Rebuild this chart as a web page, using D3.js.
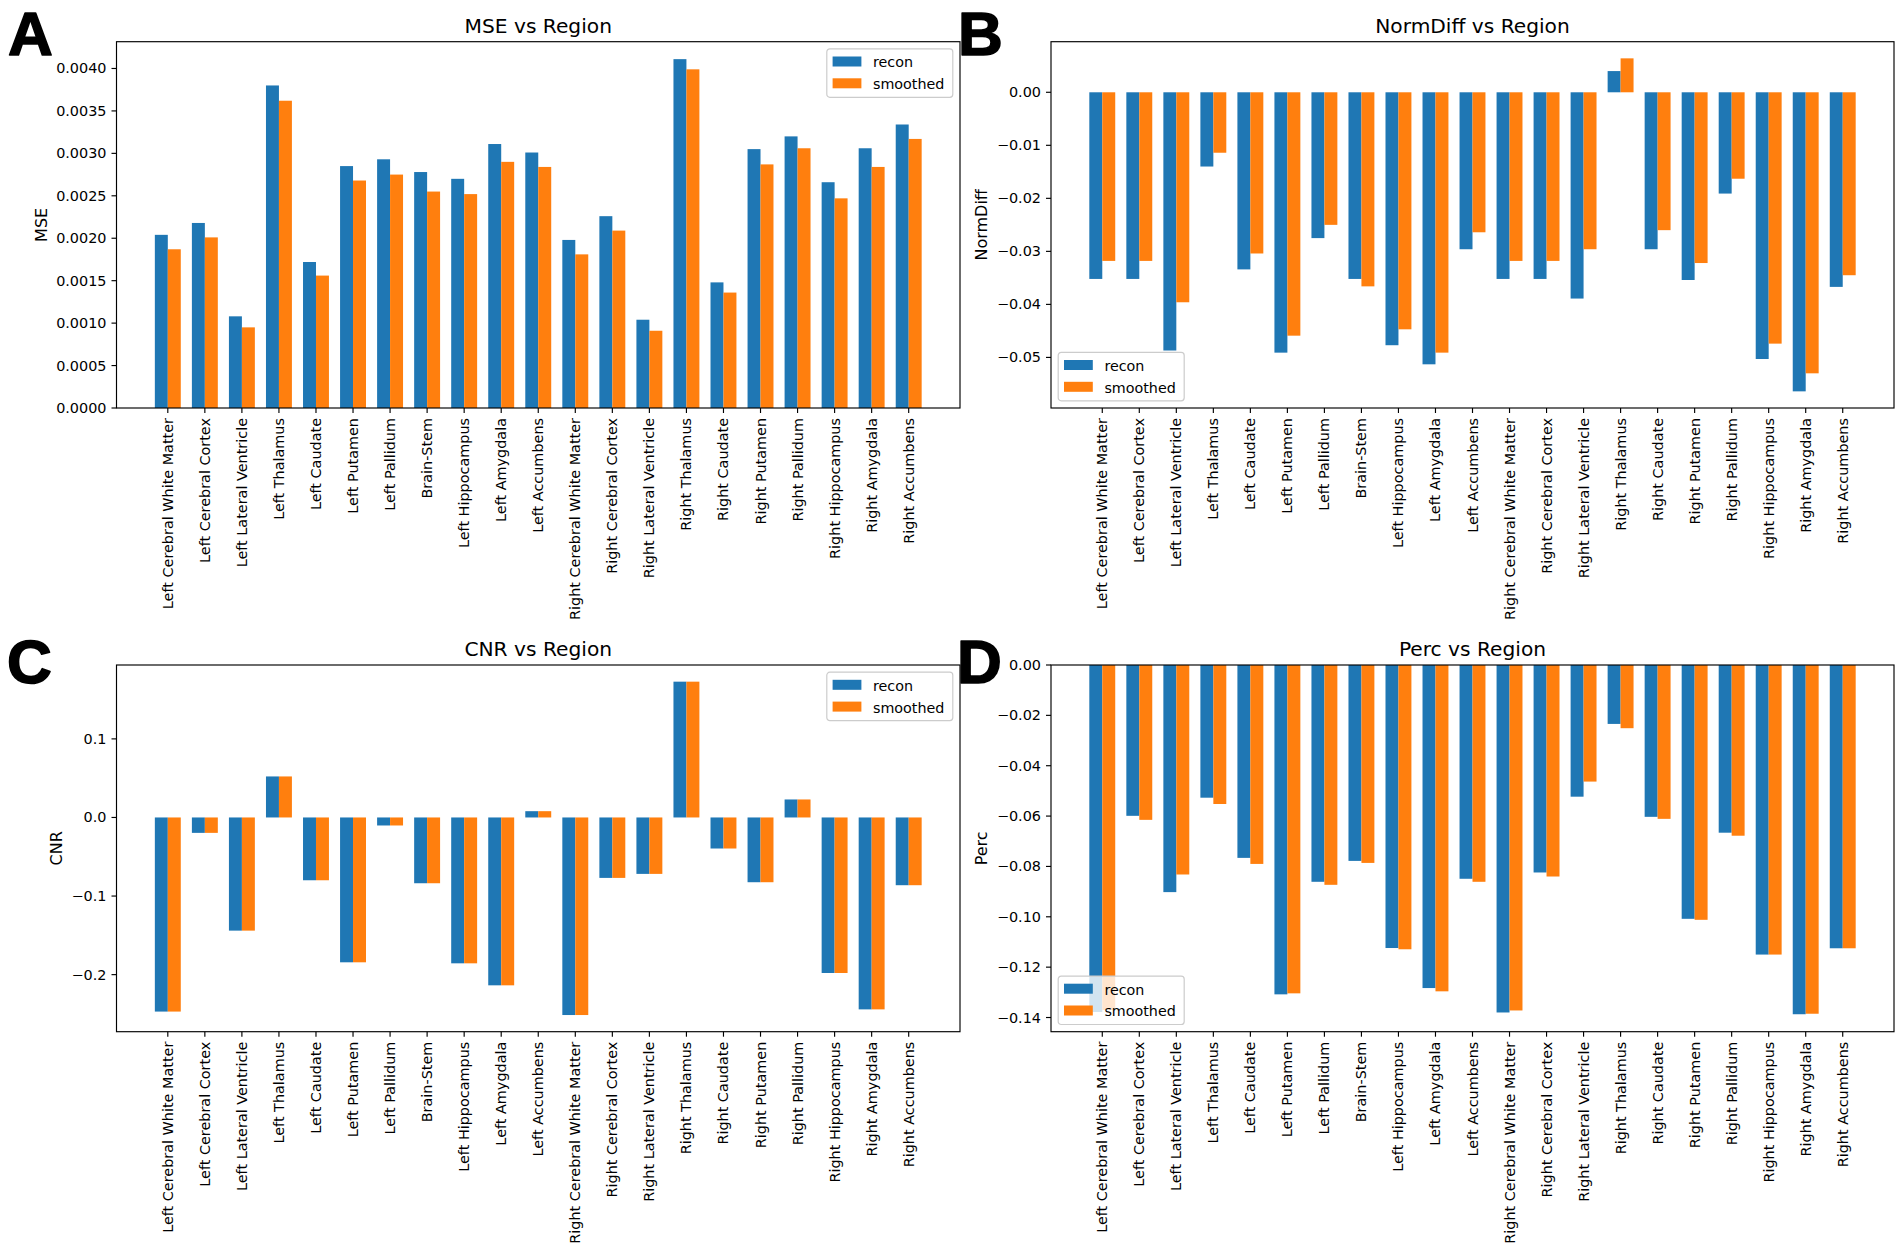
<!DOCTYPE html>
<html>
<head>
<meta charset="utf-8">
<script src="https://cdn.jsdelivr.net/npm/d3@7"></script>
<style>
  html, body { margin: 0; padding: 0; background: #ffffff; }
  svg { display: block; font-family: "DejaVu Sans", sans-serif; }
</style>
</head>
<body>
<svg id="chart" width="1902" height="1257"></svg>
<script>
// ---------- data ----------
const regions = [
  "Left Cerebral White Matter", "Left Cerebral Cortex", "Left Lateral Ventricle",
  "Left Thalamus", "Left Caudate", "Left Putamen", "Left Pallidum", "Brain-Stem",
  "Left Hippocampus", "Left Amygdala", "Left Accumbens", "Right Cerebral White Matter",
  "Right Cerebral Cortex", "Right Lateral Ventricle", "Right Thalamus", "Right Caudate",
  "Right Putamen", "Right Pallidum", "Right Hippocampus", "Right Amygdala", "Right Accumbens"
];
const seriesNames = ["recon", "smoothed"];

const mseRecon    = [0.00204, 0.00218, 0.00108, 0.00380, 0.00172, 0.00285, 0.00293, 0.00278, 0.00270, 0.00311, 0.00301, 0.00198, 0.00226, 0.00104, 0.00411, 0.00148, 0.00305, 0.00320, 0.00266, 0.00306, 0.00334];
const mseSmoothed = [0.00187, 0.00201, 0.00095, 0.00362, 0.00156, 0.00268, 0.00275, 0.00255, 0.00252, 0.00290, 0.00284, 0.00181, 0.00209, 0.00091, 0.00399, 0.00136, 0.00287, 0.00306, 0.00247, 0.00284, 0.00317];

const normRecon    = [-0.0352, -0.0352, -0.0487, -0.0140, -0.0334, -0.0491, -0.0275, -0.0352, -0.0477, -0.0513, -0.0296, -0.0352, -0.0352, -0.0389, 0.0040, -0.0296, -0.0354, -0.0191, -0.0503, -0.0564, -0.0367];
const normSmoothed = [-0.0318, -0.0318, -0.0396, -0.0114, -0.0304, -0.0459, -0.0250, -0.0366, -0.0447, -0.0491, -0.0264, -0.0318, -0.0318, -0.0296, 0.0064, -0.0260, -0.0322, -0.0163, -0.0474, -0.0530, -0.0345];

const cnrRecon    = [-0.2470, -0.0196, -0.1440, 0.0522, -0.0799, -0.1843, -0.0102, -0.0837, -0.1856, -0.2136, 0.0080, -0.2514, -0.0769, -0.0718, 0.1728, -0.0395, -0.0824, 0.0229, -0.1979, -0.2442, -0.0862];
const cnrSmoothed = [-0.2470, -0.0196, -0.1440, 0.0522, -0.0799, -0.1843, -0.0102, -0.0837, -0.1856, -0.2136, 0.0080, -0.2514, -0.0769, -0.0718, 0.1728, -0.0395, -0.0824, 0.0229, -0.1979, -0.2442, -0.0862];

const percRecon    = [-0.1378, -0.0599, -0.0902, -0.0527, -0.0766, -0.1308, -0.0861, -0.0778, -0.1124, -0.1283, -0.0849, -0.1380, -0.0824, -0.0523, -0.0234, -0.0603, -0.1008, -0.0666, -0.1150, -0.1387, -0.1125];
const percSmoothed = [-0.1370, -0.0615, -0.0832, -0.0552, -0.0790, -0.1304, -0.0873, -0.0786, -0.1129, -0.1296, -0.0861, -0.1372, -0.0840, -0.0463, -0.0251, -0.0611, -0.1012, -0.0678, -0.1150, -0.1385, -0.1125];

// tick values
const mseTicks  = [0, 0.0005, 0.0010, 0.0015, 0.0020, 0.0025, 0.0030, 0.0035, 0.0040];
const normTicks = [0, -0.01, -0.02, -0.03, -0.04, -0.05];
const cnrTicks  = [0.1, 0.0, -0.1, -0.2];
const percTicks = [0, -0.02, -0.04, -0.06, -0.08, -0.10, -0.12, -0.14];

// ---------- style ----------
const COLORS = ["#1f77b4", "#ff7f0e"];
const PT = 1.44;
const TICK_FS = 14.4, LABEL_FS = 16, TITLE_FS = 20.2, LEG_FS = 14.3;

const svg = d3.select("#chart");
svg.append("rect").attr("width", 1902).attr("height", 1257).attr("fill", "#ffffff");

function panel(cfg) {
  const {left, right, top, bottom} = cfg.box;
  const g = svg.append("g");
  const n = regions.length;
  const barW = 0.35;
  const xMin = -barW, xMax = (n - 1) + barW;
  const xm = (xMax - xMin) * 0.05;
  const x = d3.scaleLinear().domain([xMin - xm, xMax + xm]).range([left, right]);

  const all = cfg.series[0].concat(cfg.series[1]);
  let dMin = d3.min(all), dMax = d3.max(all);
  let lo, hi;
  const r = dMax - dMin;
  if (dMin >= 0) { lo = 0; hi = dMax + 0.05 * dMax; }
  else if (dMax <= 0) { hi = 0; lo = dMin + 0.05 * dMin; }
  else { lo = dMin - 0.05 * r; hi = dMax + 0.05 * r; }
  const y = d3.scaleLinear().domain([lo, hi]).range([bottom, top]);

  // bars
  cfg.series.forEach((vals, s) => {
    g.append("g").selectAll("rect").data(vals).join("rect")
      .attr("x", (d, i) => x(i - barW + s * barW))
      .attr("width", (d, i) => x(i + s * barW) - x(i - barW + s * barW))
      .attr("y", d => y(Math.max(0, d)))
      .attr("height", d => Math.abs(y(d) - y(0)))
      .attr("fill", COLORS[s]);
  });

  // y axis ticks
  const fmt = d3.format(cfg.fmt);
  const yt = g.append("g");
  let maxW = 0;
  cfg.ticks.forEach(t => {
    const yy = y(t);
    yt.append("line").attr("x1", left - 5).attr("x2", left).attr("y1", yy).attr("y2", yy)
      .attr("stroke", "#000").attr("stroke-width", 0.8 * PT);
    const tx = yt.append("text").attr("x", left - 10).attr("y", yy)
      .attr("text-anchor", "end").attr("dominant-baseline", "central")
      .attr("font-size", TICK_FS).attr("fill", "#000").text(fmt(t));
    maxW = Math.max(maxW, tx.node().getComputedTextLength());
  });

  // x axis ticks
  const xt = g.append("g");
  regions.forEach((name, i) => {
    const xx = x(i);
    xt.append("line").attr("x1", xx).attr("x2", xx).attr("y1", bottom).attr("y2", bottom + 5)
      .attr("stroke", "#000").attr("stroke-width", 0.8 * PT);
    xt.append("text").attr("transform", `translate(${xx},${bottom + 10}) rotate(-90)`)
      .attr("text-anchor", "end").attr("dominant-baseline", "central")
      .attr("font-size", TICK_FS).attr("fill", "#000").text(name);
  });

  // frame
  g.append("rect").attr("x", left).attr("y", top).attr("width", right - left).attr("height", bottom - top)
    .attr("fill", "none").attr("stroke", "#000").attr("stroke-width", 0.8 * PT);

  // y label
  const lx = left - 10 - maxW - 4 * PT - 0.236 * LABEL_FS;
  g.append("text").attr("transform", `translate(${lx},${(top + bottom) / 2}) rotate(-90)`)
    .attr("text-anchor", "middle").attr("font-size", LABEL_FS).attr("fill", "#000").text(cfg.ylabel);

  // title
  g.append("text").attr("x", (left + right) / 2).attr("y", top - 6 * PT)
    .attr("text-anchor", "middle").attr("font-size", TITLE_FS).attr("fill", "#000").text(cfg.title);

  // legend
  const lw = 126, lh = 48.4, pad = 7.2;
  const lgx = cfg.legend === "upper right" ? right - pad - lw : left + pad;
  const lgy = cfg.legend === "upper right" ? top + pad : bottom - pad - lh;
  const lg = g.append("g").attr("transform", `translate(${lgx},${lgy})`);
  lg.append("rect").attr("width", lw).attr("height", lh).attr("rx", 3).attr("ry", 3)
    .attr("fill", "#ffffff").attr("fill-opacity", 0.8)
    .attr("stroke", "#cccccc").attr("stroke-width", 1.2);
  seriesNames.forEach((nm, s) => {
    const cy = 12.6 + s * 21.8;
    lg.append("rect").attr("x", 5.8).attr("y", cy - 5).attr("width", 28.8).attr("height", 10).attr("fill", COLORS[s]);
    lg.append("text").attr("x", 46.2).attr("y", cy + 1).attr("dominant-baseline", "central")
      .attr("font-size", LEG_FS).attr("fill", "#000").text(nm);
  });

  // panel letter
  svg.append("text").attr("x", cfg.letterPos[0]).attr("y", cfg.letterPos[1])
    .attr("font-family", "'Liberation Sans', Arial, sans-serif").attr("font-weight", "bold")
    .attr("font-size", 62).attr("fill", "#000")
    .attr("stroke", "#000").attr("stroke-width", 1.6).attr("stroke-linejoin", "round")
    .text(cfg.letter);
}

panel({ box: {left: 116.5, right: 960, top: 41.7, bottom: 408}, series: [mseRecon, mseSmoothed],
  ticks: mseTicks, fmt: ".4f", ylabel: "MSE", title: "MSE vs Region", legend: "upper right",
  letter: "A", letterPos: [8, 55] });
panel({ box: {left: 1051, right: 1894, top: 41.7, bottom: 408}, series: [normRecon, normSmoothed],
  ticks: normTicks, fmt: ".2f", ylabel: "NormDiff", title: "NormDiff vs Region", legend: "lower left",
  letter: "B", letterPos: [958, 55] });
panel({ box: {left: 116.5, right: 960, top: 665, bottom: 1031.7}, series: [cnrRecon, cnrSmoothed],
  ticks: cnrTicks, fmt: ".1f", ylabel: "CNR", title: "CNR vs Region", legend: "upper right",
  letter: "C", letterPos: [7, 683] });
panel({ box: {left: 1051, right: 1894, top: 665, bottom: 1031.7}, series: [percRecon, percSmoothed],
  ticks: percTicks, fmt: ".2f", ylabel: "Perc", title: "Perc vs Region", legend: "lower left",
  letter: "D", letterPos: [957, 683] });
</script>
</body>
</html>
